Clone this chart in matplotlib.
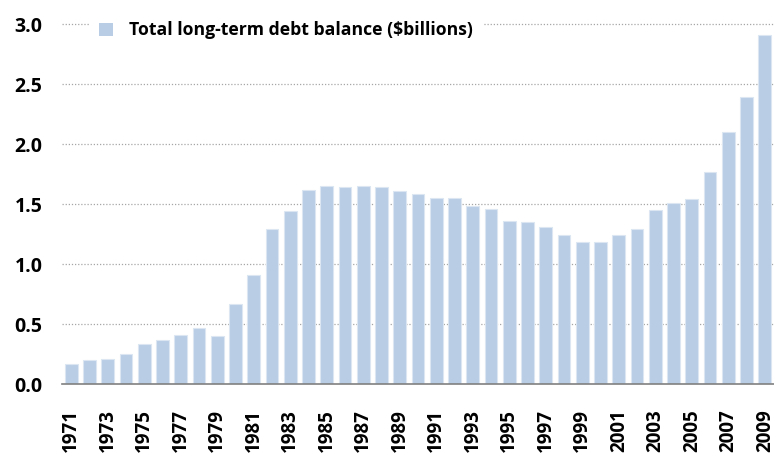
import matplotlib
matplotlib.use("Agg")
import matplotlib.pyplot as plt
from matplotlib.patches import Patch

years = list(range(1971, 2010))
values = [0.17, 0.20, 0.21, 0.25, 0.33, 0.37, 0.41, 0.47, 0.40, 0.67,
          0.91, 1.29, 1.44, 1.62, 1.65, 1.64, 1.65, 1.64, 1.61, 1.58,
          1.55, 1.55, 1.48, 1.46, 1.36, 1.35, 1.31, 1.24, 1.18, 1.18,
          1.24, 1.29, 1.45, 1.51, 1.54, 1.77, 2.10, 2.39, 2.91]
series_label = "Total long-term debt balance ($billions)"
yticks = [0.0, 0.5, 1.0, 1.5, 2.0, 2.5, 3.0]

FAM = ['Open Sans', 'DejaVu Sans']
plt.rcParams['font.family'] = FAM
W, H = 774, 453
fig = plt.figure(figsize=(W / 100, H / 100), dpi=100)
ax = fig.add_axes([62 / W, (H - 384) / H, (774 - 62) / W, (384 - 24) / H])

x = list(range(len(years)))
ax.bar(x, values, width=0.70, color='#B9CDE5', edgecolor='#DCE6F2',
       linewidth=0.8, zorder=2)

ax.set_xlim(-0.5, len(years) - 0.5)
ax.set_ylim(0, 3.0)
ax.set_yticks(yticks)
ax.set_yticklabels([f"{v:.1f}" for v in yticks], fontsize=14, fontweight='bold')
ax.set_xticks(x[::2])
ax.set_xticklabels([str(y) for y in years[::2]], rotation=90, fontsize=13.5,
                   fontweight='bold')
ax.tick_params(axis='y', length=0, pad=14)
ax.tick_params(axis='x', length=0, pad=18)

for v in yticks[1:]:
    ax.axhline(v, color='#A6A6A6', linewidth=0.9, linestyle=(0, (1, 1.5)),
               zorder=1, clip_on=False)

for s in ['top', 'right', 'left']:
    ax.spines[s].set_visible(False)
ax.spines['bottom'].set_color('#808080')
ax.spines['bottom'].set_linewidth(1.2)
ax.spines['bottom'].set_zorder(3)

handle = Patch(facecolor='#B9CDE5', edgecolor='none')
leg = ax.legend([handle], [series_label], loc='upper left',
                bbox_to_anchor=(80 / W, 1 - 2 / H), bbox_transform=fig.transFigure,
                frameon=True, facecolor='white', edgecolor='none', framealpha=1,
                fancybox=False, handlelength=0.75, handleheight=0.75,
                handletextpad=0.9, borderpad=0.6,
                prop={'family': FAM, 'weight': 'bold', 'size': 12.7})
leg.set_zorder(5)

fig.savefig("out.png", dpi=100)
